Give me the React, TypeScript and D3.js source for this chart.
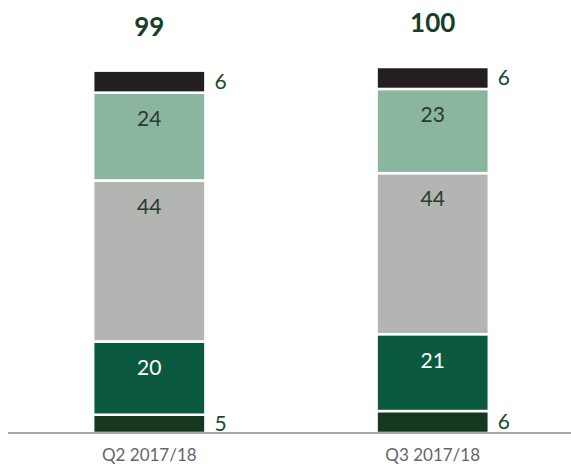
import React from "react";
import * as d3 from "d3";

const categories = ["Q2 2017/18", "Q3 2017/18"];
const totals = ["99", "100"];
const seriesNames = ["s1", "s2", "s3", "s4", "s5"];
const s1 = [5, 6];
const s2 = [20, 21];
const s3 = [44, 44];
const s4 = [24, 23];
const s5 = [6, 6];
const colors = ["#15361f", "#0b5a3f", "#b2b5b1", "#8ab59f", "#231f20"];
const labelColors = ["#1b4a2c", "#ffffff", "#2b3a2e", "#2b3a2e", "#1b4a2c"];
const outside = [true, false, false, false, true];

export default function App() {
  const W = 571, H = 464;
  const baseY = 433;
  const rows = categories.map((c, i) => ({ cat: c, s1: s1[i], s2: s2[i], s3: s3[i], s4: s4[i], s5: s5[i] }));
  const stack = d3.stack<any>().keys(seriesNames)(rows);
  const y = d3.scaleLinear().domain([0, 100]).range([baseY, baseY - 366]);
  const x = d3.scaleBand().domain(categories).range([11, 571]).paddingInner(0.604).paddingOuter(0.29);
  const font = "Lato, 'Open Sans', sans-serif";
  return (
    <svg width={W} height={H} style={{ position: "absolute", left: 0, top: 0 }}>
      {stack.map((layer, li) =>
        layer.map((d, i) => {
          const x0 = x(categories[i])!;
          const bw = x.bandwidth();
          const top = y(d[1]);
          const bot = y(d[0]);
          const val = d[1] - d[0];
          return (
            <g key={li + "-" + i}>
              <rect x={x0} y={top} width={bw} height={bot - top} fill={colors[li]} stroke="#fff" strokeWidth={2.5} />
              {outside[li] ? (
                <text x={x0 + bw + 9} y={(top + bot) / 2} dy="0.35em" fontSize={21} fill={labelColors[li]} fontFamily={font}>
                  {val}
                </text>
              ) : (
                <text x={x0 + bw / 2} y={top + 26} dy="0.35em" textAnchor="middle" fontSize={21} fill={labelColors[li]} fontFamily={font}>
                  {val}
                </text>
              )}
            </g>
          );
        })
      )}
      {categories.map((c, i) => (
        <g key={c}>
          <text x={x(c)! + x.bandwidth() / 2} y={y(+totals[i]) - 35} textAnchor="middle" fontSize={26} fontWeight="bold" fill="#163f26" fontFamily={font}>
            {totals[i]}
          </text>
          <text x={x(c)! + x.bandwidth() / 2} y={455} dy="0.35em" textAnchor="middle" fontSize={17} fill="#666" fontFamily={font}>
            {c}
          </text>
        </g>
      ))}
      <line x1={8} x2={571} y1={baseY} y2={baseY} stroke="#a8a8a8" strokeWidth={2} />
    </svg>
  );
}
